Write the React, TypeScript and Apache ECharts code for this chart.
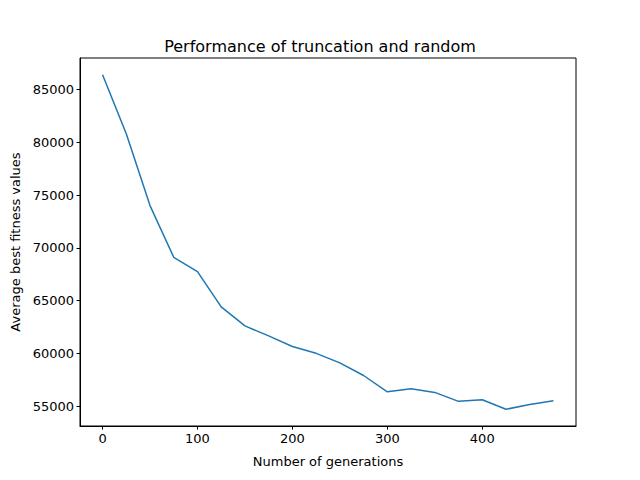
import React, { useEffect, useRef } from 'react';
import * as echarts from 'echarts';

const generations = [0, 25, 50, 75, 100, 125, 150, 175, 200, 225, 250, 275, 300, 325, 350, 375, 400, 425, 450, 475];
const fitness = [86400, 80800, 74000, 69100, 67750, 64400, 62600, 61650, 60650, 60000, 59100, 57900, 56350, 56650, 56300, 55450, 55600, 54700, 55150, 55500];

const App: React.FC = () => {
  const chartRef = useRef<HTMLDivElement>(null);

  useEffect(() => {
    if (!chartRef.current) return;
    const chart = echarts.init(chartRef.current, undefined, { renderer: 'svg' });
    const font = 'DejaVu Sans';
    const yMin = Math.min(...fitness);
    const yMax = Math.max(...fitness);
    const yPad = (yMax - yMin) * 0.05;
    const xPad = (generations[generations.length - 1] - generations[0]) * 0.05;

    const axisCommon = {
      axisLine: { show: true, onZero: false, lineStyle: { color: '#000', width: 1 } },
      axisTick: { show: true, length: 3.5, inside: false, lineStyle: { color: '#000' } },
      splitLine: { show: false },
      axisLabel: {
        color: '#000',
        fontFamily: font,
        fontSize: 13,
        margin: 6,
        showMinLabel: false,
        showMaxLabel: false,
        formatter: (v: number) => String(v),
      },
      nameTextStyle: { color: '#000', fontFamily: font, fontSize: 13 },
      nameLocation: 'middle' as const,
    };

    chart.setOption({
      animation: false,
      title: {
        text: 'Performance of truncation and random',
        left: 'center',
        top: 33,
        textStyle: { color: '#000', fontFamily: font, fontSize: 16, fontWeight: 'normal' },
      },
      grid: { left: 80, right: 64, top: 58, bottom: 54, show: true, borderColor: '#000', borderWidth: 1 },
      xAxis: {
        ...axisCommon,
        type: 'value',
        min: generations[0] - xPad,
        max: generations[generations.length - 1] + xPad,
        splitNumber: 6,
        name: 'Number of generations',
        nameGap: 29,
      },
      yAxis: {
        ...axisCommon,
        type: 'value',
        min: yMin - yPad,
        max: yMax + yPad,
        splitNumber: 6,
        name: 'Average best fitness values',
        nameGap: 58,
      },
      series: [
        {
          type: 'line',
          data: generations.map((g, i) => [g, fitness[i]]),
          showSymbol: false,
          lineStyle: { color: '#1f77b4', width: 1.5 },
        },
      ],
    });

    return () => {
      chart.dispose();
    };
  }, []);

  return <div ref={chartRef} style={{ width: 640, height: 480, margin: -8 }} />;
};

export default App;
